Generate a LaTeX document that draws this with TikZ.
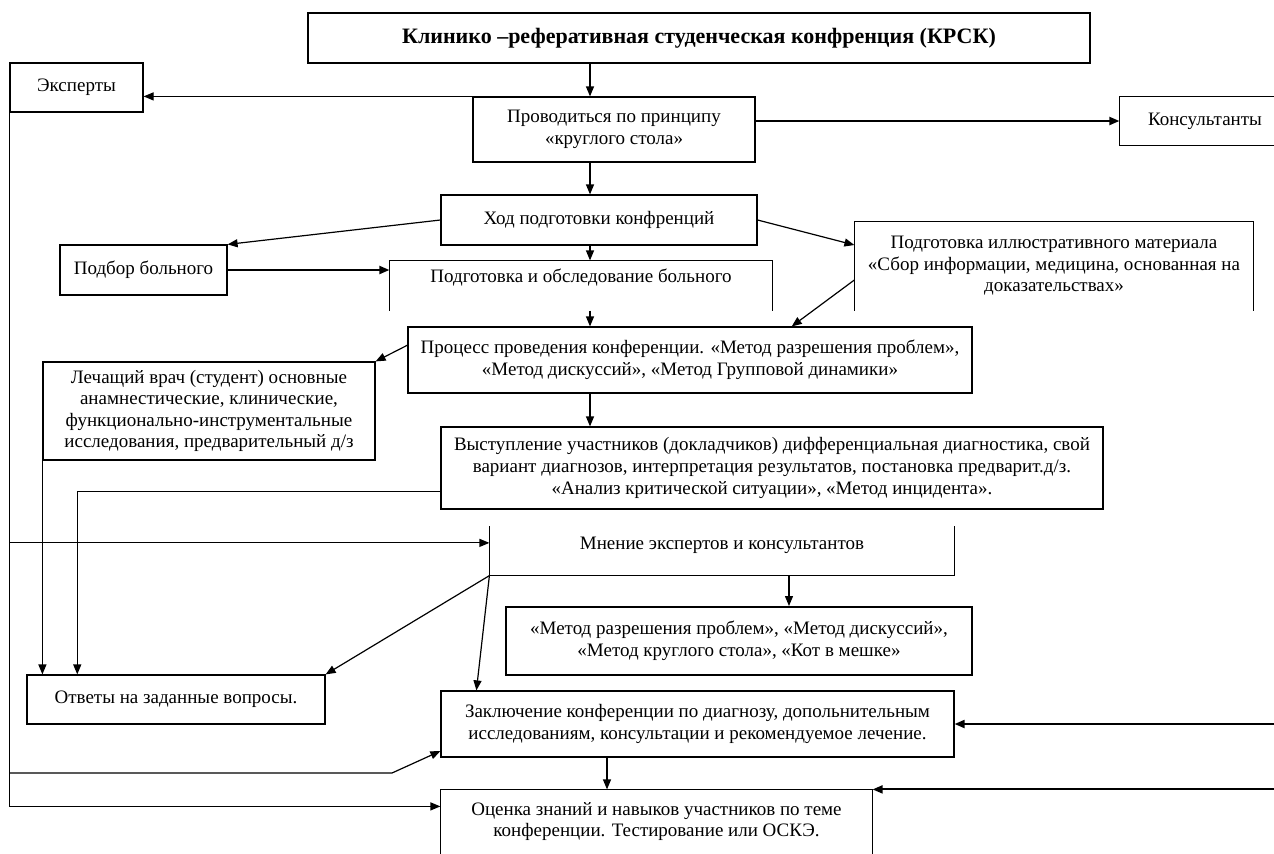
\documentclass[tikz,border=0pt]{standalone}
\usepackage{fontspec}
\setmainfont{Liberation Serif}
\usetikzlibrary{arrows.meta,calc}

\begin{document}
\begin{tikzpicture}[x=0.5pt, y=-0.5pt, font=\fontsize{9.5}{10.8}\selectfont, line width=0.6pt,
  box/.style 2 args={draw, align=center, inner sep=0pt, minimum width=#1*0.5pt, minimum height=#2*0.5pt},
  open/.style 2 args={align=center, inner sep=0pt, minimum width=#1*0.5pt, minimum height=#2*0.5pt},
  >={Triangle[length=5pt, width=4pt]}]
  \useasboundingbox (0,0) rectangle (1274,853);
  \coordinate (spine) at (590,0);
  \coordinate (spine2) at (607,0);
  \coordinate (edgeR) at (1274,0);
  \coordinate (kink) at (392,773);
  % boxes
  \node[box={782}{50}, line width=1pt, font=\fontsize{11}{12}\selectfont\bfseries] (title) at (699,38)
       {Клинико –реферативная студенческая конфренция (КРСК)};
  \node[box={133}{49}] (experts) at (76.5,87.5) {Эксперты};
  \node[box={282}{65}] (prov) at (614,129.5) {Проводиться по принципу\\«круглого стола»};
  \node[open={170}{48}] (kons) at (1205,121) {Консультанты};
  \node[box={316}{50}] (hod) at (599,220) {Ход подготовки конфренций};
  \node[box={167}{50}] (podbor) at (143.5,270) {Подбор больного};
  \node[open={382}{49}, text depth=10pt] (podg) at (581,285.5) {Подготовка и обследование больного};
  \node[open={398}{88}] (illus) at (1054,266)
       {Подготовка иллюстративного материала\\«Сбор информации, медицина, основанная на\\доказательствах»};
  \node[box={564}{66}] (proc) at (690,360)
       {Процесс проведения конференции. «Метод разрешения проблем»,\\«Метод дискуссий», «Метод Групповой динамики»};
  \node[box={332}{98}] (lech) at (209,411)
       {Лечащий врач (студент) основные\\анамнестические, клинические,\\функционально-инструментальные\\исследования, предварительный д/з};
  \node[box={662}{82}] (vyst) at (772,468)
       {Выступление участников (докладчиков) дифференциальная диагностика, свой\\вариант диагнозов, интерпретация результатов, постановка предварит.д/з.\\«Анализ критической ситуации», «Метод инцидента».};
  \node[open={464}{48}, text depth=8pt] (mnen) at (722,551) {Мнение экспертов и консультантов};
  \node[box={466}{68}, line width=1pt] (metod) at (739,641)
       {«Метод разрешения проблем», «Метод дискуссий»,\\«Метод круглого стола», «Кот в мешке»};
  \node[box={298}{49}] (otv) at (176,699.5) {Ответы на заданные вопросы.};
  \node[box={513}{66}] (zakl) at (697.5,724)
       {Заключение конференции по диагнозу, допольнительным\\исследованиям, консультации и рекомендуемое лечение.};
  \node[open={431}{63}] (ocen) at (656.5,821.5)
       {Оценка знаний и навыков участников по теме\\конференции. Тестирование или ОСКЭ.};
  \coordinate (mdrop) at ($(mnen.south west)!0.644!(mnen.south east)$);
  % open boxes
  \draw (kons.north west -| edgeR) -- (kons.north west) -- (kons.south west) -- (kons.south west -| edgeR);
  \draw (podg.south west) -- (podg.north west) -- (podg.north east) -- (podg.south east);
  \draw (illus.south west) -- (illus.north west) -- (illus.north east) -- (illus.south east);
  \draw (mnen.north west) -- (mnen.south west) -- (mnen.south east) -- (mnen.north east);
  \draw (ocen.south west) -- (ocen.north west) -- (ocen.north east) -- (ocen.south east);
  % connectors
  \draw[->] (title.south -| spine) -- (prov.north -| spine);
  \draw[->] (prov.north west) -- (experts.east |- prov.north west);
  \draw[->, line width=1pt] (prov.east |- kons.west) -- (kons.west);
  \draw[->] (prov.south -| spine) -- (hod.north -| spine);
  \draw[->] (hod.west) -- (podbor.north east);
  \draw[->] (hod.east) -- (illus.174);
  \draw[->, line width=1pt] (podbor.east) -- (podbor.east -| podg.west);
  \draw[->] (hod.south -| spine) -- (podg.north -| spine);
  \draw[->] (podg.south -| spine) -- (proc.north -| spine);
  \draw[->] (illus.184) -- ($(proc.north west)!0.68!(proc.north east)$);
  \draw[->] (proc.177) -- (lech.north east);
  \draw[->] (proc.south -| spine) -- (vyst.north -| spine);
  \draw[->] (lech.south west) -- (lech.south west |- otv.north);
  \draw[->] (vyst.184) -| ($(otv.north west)!0.17!(otv.north east)$);
  \draw[->] (experts.south west) |- (ocen.176);
  \draw[->] (experts.south west |- mnen.178) -- (mnen.178);
  \draw[->] (experts.south west |- kink) -- (kink) -- (zakl.186);
  \draw[->] (mnen.south west) -- (otv.north east);
  \draw[->] (mnen.south west) -- ($(zakl.north west)!0.07!(zakl.north east)$);
  \draw[->] (mdrop) -- (mdrop |- metod.north);
  \draw[->] (zakl.south -| spine2) -- (ocen.north -| spine2);
  \draw[->, line width=1pt] (edgeR |- zakl.east) -- (zakl.east);
  \draw[->, line width=1pt] (edgeR |- ocen.north east) -- (ocen.north east);
\end{tikzpicture}
\end{document}
